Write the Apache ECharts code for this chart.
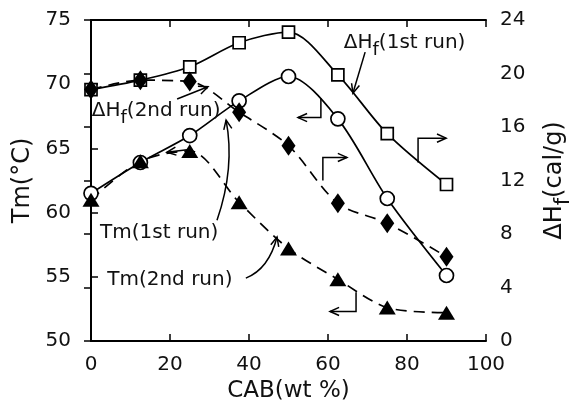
<!DOCTYPE html>
<html>
<head>
<meta charset="utf-8">
<script src="https://cdn.jsdelivr.net/npm/echarts@6/dist/echarts.min.js"></script>
<style>
html, body { margin: 0; padding: 0; background: #fff; }
#main { width: 577px; height: 404px; }
</style>
</head>
<body>
<div id="main"></div>
<script>
// CAB content (wt %)
const cab = [0, 12.5, 25, 37.5, 50, 62.5, 75, 90];
// Tm (°C), left axis
const tm1st = [61.5, 63.9, 66.0, 68.7, 70.6, 67.3, 61.1, 55.1];
const tm2nd = [61.0, 64.0, 64.8, 60.8, 57.2, 54.8, 52.6, 52.2];
// ΔHf (cal/g), right axis
const dh1st = [18.8, 19.5, 20.5, 22.3, 23.1, 19.9, 15.5, 11.7];
const dh2nd = [18.8, 19.5, 19.4, 17.1, 14.6, 10.3, 8.8, 6.3];
const xTicks = [0, 20, 40, 60, 80, 100];

const FONT = "DejaVu Sans";
const pairs = (ys) => cab.map((x, i) => [x, ys[i]]);

let chart = echarts.init(document.getElementById("main"));

const axisBase = {
  axisLine: { show: true, lineStyle: { color: "#000", width: 2 } },
  axisTick: { show: true, inside: true, length: 7, lineStyle: { color: "#000", width: 1.5 } },
  splitLine: { show: false },
  axisLabel: { color: "#111", fontSize: 20, fontFamily: FONT }
};

chart.setOption({
  animation: false,
  grid: { left: 91, right: 91, top: 20, bottom: 63, containLabel: false, outerBoundsMode: "none" },
  xAxis: [
    Object.assign({}, axisBase, {
      type: "value", min: 0, max: 100, interval: 20,
      name: "CAB(wt %)", nameLocation: "middle", nameGap: 36,
      nameTextStyle: { color: "#111", fontSize: 23, fontFamily: FONT },
      axisLabel: { color: "#111", fontSize: 20, fontFamily: FONT, margin: 14,
        formatter: (v) => xTicks.includes(v) ? String(v) : "" }
    }),
    Object.assign({}, axisBase, {
      type: "value", position: "top", min: 0, max: 100, interval: 20,
      axisLabel: { show: false }
    })
  ],
  yAxis: [
    Object.assign({}, axisBase, {
      type: "value", min: 50, max: 75, interval: 5,
      name: "Tm(°C)", nameLocation: "middle", nameGap: 55,
      nameTextStyle: { color: "#111", fontSize: 24, fontFamily: FONT },
      axisLabel: { color: "#111", fontSize: 20, fontFamily: FONT, margin: 20 }
    }),
    Object.assign({}, axisBase, {
      type: "value", position: "right", min: 0, max: 24, interval: 4,
      name: "{a|ΔH}{s|f}{a|(cal/g)}", nameLocation: "middle", nameGap: 50,
      nameTextStyle: {
        color: "#111", fontFamily: FONT,
        rich: {
          a: { fontSize: 24, fontFamily: FONT, color: "#111", lineHeight: 38, verticalAlign: "middle" },
          s: { fontSize: 21, fontFamily: FONT, color: "#111", lineHeight: 38, verticalAlign: "bottom" }
        }
      },
      axisLabel: { color: "#111", fontSize: 20, fontFamily: FONT, margin: 14 }
    })
  ],
  series: [
    {
      name: "ΔHf(1st run)", type: "line", yAxisIndex: 1, smooth: 0.3,
      data: pairs(dh1st), symbol: "rect", symbolSize: 12,
      lineStyle: { color: "#000", width: 1.7 },
      itemStyle: { color: "#fff", borderColor: "#000", borderWidth: 1.7 }
    },
    {
      name: "Tm(1st run)", type: "line", yAxisIndex: 0, smooth: 0.3,
      data: pairs(tm1st), symbol: "circle", symbolSize: 14,
      lineStyle: { color: "#000", width: 1.7 },
      itemStyle: { color: "#fff", borderColor: "#000", borderWidth: 1.7 }
    },
    {
      name: "Tm(2nd run)", type: "line", yAxisIndex: 0, smooth: 0.3,
      data: pairs(tm2nd), symbol: "triangle", symbolSize: [17, 14],
      lineStyle: { color: "#000", width: 1.7, type: [11, 7] },
      itemStyle: { color: "#000", borderColor: "#000", borderWidth: 0 }
    },
    {
      name: "ΔHf(2nd run)", type: "line", yAxisIndex: 1, smooth: 0.3,
      data: pairs(dh2nd), symbol: "diamond", symbolSize: [14, 20],
      lineStyle: { color: "#000", width: 1.7, type: [11, 7] },
      itemStyle: { color: "#000", borderColor: "#000", borderWidth: 0 }
    }
  ]
});

// annotations, anchored in data space (x: CAB, y: Tm scale)
function px(p) { return chart.convertToPixel({ xAxisIndex: 0, yAxisIndex: 0 }, p); }
function head(tip, from, len, ang) {
  len = len || 10; ang = ang || 0.42;
  let a = Math.atan2(tip[1] - from[1], tip[0] - from[0]);
  return [
    [tip[0] - len * Math.cos(a - ang), tip[1] - len * Math.sin(a - ang)],
    tip,
    [tip[0] - len * Math.cos(a + ang), tip[1] - len * Math.sin(a + ang)]
  ];
}
const stroke = { stroke: "#000", lineWidth: 1.5, fill: null };
let g = [];
function line(pts, arrow) {
  let p = pts.map(px);
  g.push({ type: "polyline", shape: { points: p }, style: stroke, z: 50 });
  if (arrow) g.push({ type: "polyline", shape: { points: head(p[p.length - 1], p[p.length - 2]) }, style: stroke, z: 50 });
}
function curve(a, c, b) {
  let A = px(a), C = px(c), B = px(b);
  g.push({ type: "bezierCurve", shape: { x1: A[0], y1: A[1], cpx1: C[0], cpy1: C[1], x2: B[0], y2: B[1] }, style: stroke, z: 50 });
  g.push({ type: "polyline", shape: { points: head(B, C) }, style: stroke, z: 50 });
}
const rich = {
  a: { fontSize: 20, fontFamily: FONT, fill: "#111", lineHeight: 32, verticalAlign: "middle" },
  s: { fontSize: 18, fontFamily: FONT, fill: "#111", lineHeight: 32, verticalAlign: "bottom" }
};
function label(p, text) {
  let q = px(p);
  g.push({ type: "text", x: q[0], y: q[1], z: 60,
    style: { text: text, rich: rich, fontSize: 20, fontFamily: FONT, fill: "#111", verticalAlign: "middle", align: "left" } });
}

label([64.0, 73.2], "{a|ΔH}{s|f}{a|(1st run)}");
line([[69.4, 72.5], [66.3, 69.3]], true);
label([0.2, 67.9], "{a|ΔH}{s|f}{a|(2nd run)}");
line([[21.8, 68.85], [29.6, 69.8]], true);
label([2.3, 58.4], "{a|Tm(1st run)}");
curve([31.9, 59.4], [36.5, 63.5], [34.2, 67.2]);
label([4.1, 54.75], "{a|Tm(2nd run)}");
curve([39.2, 54.9], [45, 55.6], [47.1, 58.1]);
line([[24.3, 64.9], [19.2, 64.7]], true);

// axis pointers
line([[82.8, 63.9], [82.8, 65.8], [89.9, 65.8]], true);
line([[58.2, 68.9], [58.2, 67.4], [52.4, 67.4]], true);
line([[58.7, 62.5], [58.7, 64.3], [64.8, 64.3]], true);
line([[67.1, 53.8], [67.1, 52.3], [60.5, 52.3]], true);

chart.setOption({ graphic: g });
</script>
</body>
</html>
